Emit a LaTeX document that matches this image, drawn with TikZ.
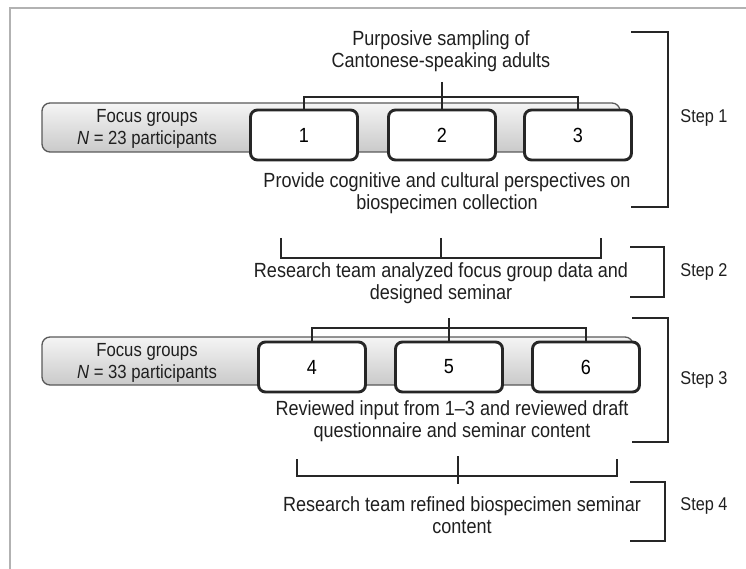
\documentclass[tikz,border=0pt]{standalone}
\usepackage{fontspec}
\setmainfont{Liberation Sans}[FakeStretch=0.88]
\begin{document}
\begin{tikzpicture}[
        x=1pt, y=-1pt,
        font=\fontsize{20.5}{22}\selectfont,
        bar/.style={rectangle, rounded corners=8pt, draw=gray!70!black, line width=1.3pt, top color=gray!8, bottom color=gray!42},
        group/.style={rectangle, rounded corners=7pt, draw=black!85, fill=white, line width=2.9pt, minimum width=107pt, minimum height=50pt},
        info/.style={align=center, text=black!88},
        fglbl/.style={align=center, text=black!88, font=\fontsize{19}{22}\selectfont},
        link/.style={draw=black!85, line width=2.7pt},
        bracket/.style={draw=black!85, line width=2.9pt},
        steplbl/.style={text=black!88, font=\fontsize{18.5}{22}\selectfont}
    ]
    \useasboundingbox (0,0) rectangle (746,569);
    % Rahmen
    \draw[gray!60, line width=2pt] (746,8) -- (10,8) -- (10,569);
    % Schritt 1: Fokusgruppen 1-3
    \node[info] (purp) at (441,51) {Purposive sampling of\\Cantonese-speaking adults};
    \node[bar, minimum width=578pt, minimum height=49pt] (bar1) at (331,127.5) {};
    \node[fglbl] (fg1) at (147,129) {Focus groups\\\textit{N} = 23 participants};
    \node[group] (g1) at (304,135) {1};
    \node[group] (g2) at (442,135) {2};
    \node[group] (g3) at (578,135) {3};
    \coordinate (top1) at (442,82);
    \coordinate (fork1) at (442,97);
    \draw[link] (top1) -- (g2.north);
    \draw[link] (g1.north) |- (fork1) -| (g3.north);
    \node[info] (prov) at (447,193.5) {Provide cognitive and cultural perspectives on\\biospecimen collection};
    \coordinate (b1t) at (631,32);
    \coordinate (b1b) at (631,207);
    \draw[bracket] (b1t) -- ++(37,0) |- (b1b);
    \node[steplbl] (step1) at (704,118) {Step 1};
    % Schritt 2: Auswertung
    \coordinate (a2l) at (281,238);
    \coordinate (a2m) at (441,238);
    \coordinate (a2r) at (601,238);
    \draw[link] (a2l) -- ++(0,20) -- ++(320,0) -- (a2r);
    \draw[link] (a2m) -- ++(0,20);
    \node[info] (res2) at (441,283) {Research team analyzed focus group data and\\designed seminar};
    \coordinate (b2t) at (630,247);
    \coordinate (b2b) at (630,297);
    \draw[bracket] (b2t) -- ++(34,0) |- (b2b);
    \node[steplbl] (step2) at (704,272) {Step 2};
    % Schritt 3: Fokusgruppen 4-6
    \node[bar, minimum width=591pt, minimum height=48pt] (bar2) at (337.5,361) {};
    \node[fglbl] (fg2) at (147,363) {Focus groups\\\textit{N} = 33 participants};
    \node[group] (g4) at (312,367) {4};
    \node[group] (g5) at (449,367) {5};
    \node[group] (g6) at (586,367) {6};
    \coordinate (top3) at (449,318);
    \coordinate (fork3) at (449,328);
    \draw[link] (top3) -- (g5.north);
    \draw[link] (g4.north) |- (fork3) -| (g6.north);
    \node[info] (rev3) at (452,421) {Reviewed input from 1–3 and reviewed draft\\questionnaire and seminar content};
    \coordinate (b3t) at (632,318);
    \coordinate (b3b) at (632,442);
    \draw[bracket] (b3t) -- ++(36,0) |- (b3b);
    \node[steplbl] (step3) at (704,380) {Step 3};
    % Schritt 4: Ueberarbeitung
    \coordinate (a4l) at (297,459);
    \coordinate (a4m) at (458,456);
    \coordinate (a4r) at (617,459);
    \draw[link] (a4l) -- ++(0,17) -- ++(320,0) -- (a4r);
    \draw[link] (a4m) -- ++(0,28);
    \node[info] (ref4) at (462,515) {Research team refined biospecimen seminar\\content};
    \coordinate (b4t) at (630,482);
    \coordinate (b4b) at (630,541);
    \draw[bracket] (b4t) -- ++(35,0) |- (b4b);
    \node[steplbl] (step4) at (704,506) {Step 4};
\end{tikzpicture}
\end{document}
